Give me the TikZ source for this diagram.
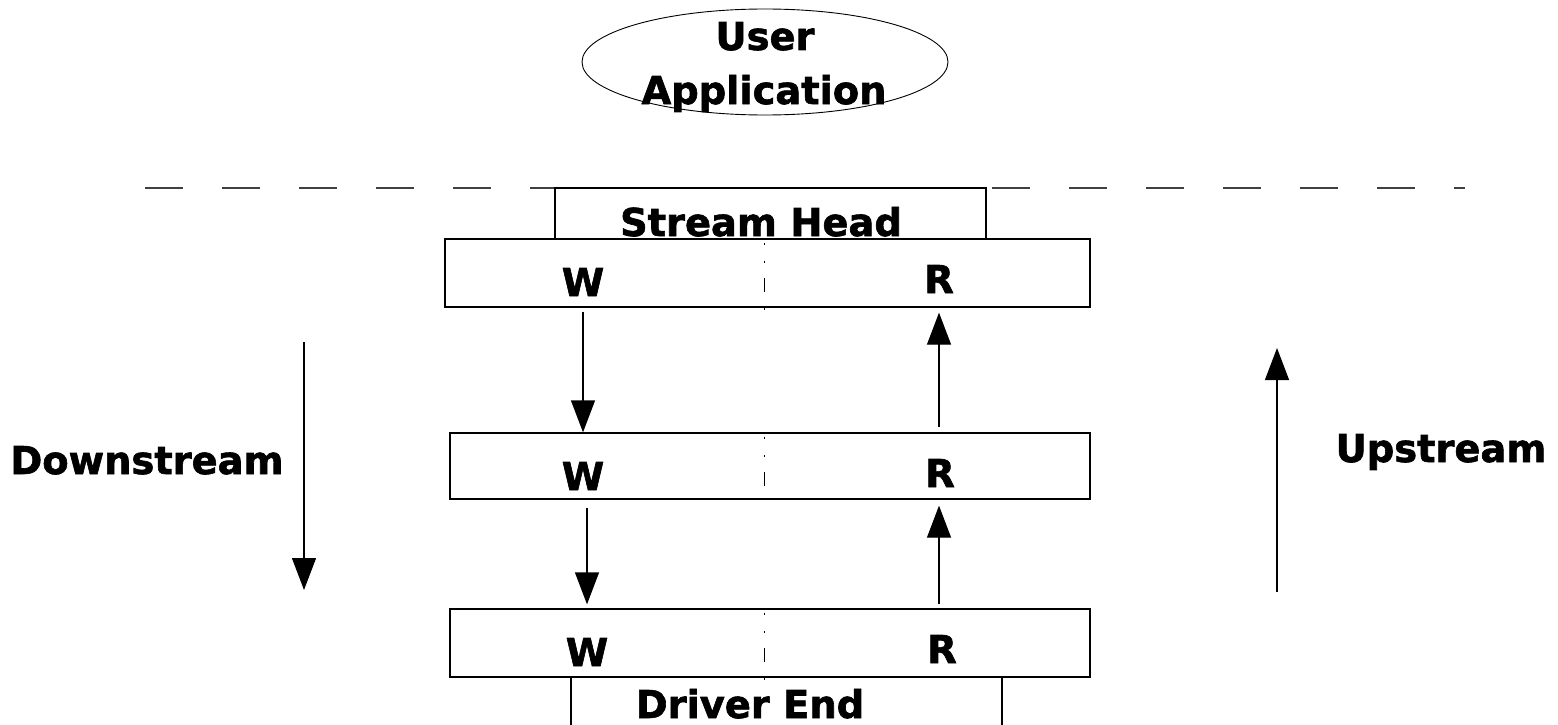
\documentclass[tikz,border=0pt]{standalone}
\usepackage{fontspec}
\setmainfont{DejaVu Sans}
\newfontfamily\heavyfont{DejaVu Sans}[FakeBold=1.6]
\usetikzlibrary{arrows.meta,shapes.geometric}
\begin{document}
\begin{tikzpicture}[x=1pt,y=-1pt,
  lbl/.style={font=\heavyfont\bfseries\fontsize{38.4}{46}\selectfont, inner sep=0pt, anchor=base},
  box/.style={draw, line width=1.3pt, inner sep=0pt, fill=white},
  arr/.style={line width=1.3pt, -{Triangle[length=32pt,width=24pt]}},
  midline/.style={line width=1pt, dash pattern=on 1.5pt off 16.5pt on 1.5pt off 15.5pt on 14pt off 16pt},
  sep/.style={line width=1.2pt, black!75, dash pattern=on 38pt off 39pt}]
\useasboundingbox (0,0) rectangle (1558,725);
\clip (0,0) rectangle (1558,725);
% user application
\node[draw, ellipse, minimum width=366pt, minimum height=106pt, line width=0.9pt, inner sep=0pt] (ua) at (765,62) {};
\node[lbl] (user) at (765,50) {User};
\node[lbl] (appl) at (764,104) {Application};
% separator
\coordinate (sepL) at (145,188);
\coordinate (sepR) at (1465,188);
\draw[sep] (sepL) -- (sepR);
% boxes
\node[box, minimum width=431pt, minimum height=51pt] (sh) at (770.5,213.5) {};
\node[box, minimum width=431pt, minimum height=80pt] (de) at (786.5,717) {};
\node[box, minimum width=645pt, minimum height=68pt] (b1) at (767.5,273) {};
\node[box, minimum width=640pt, minimum height=66pt] (b2) at (770,466) {};
\node[box, minimum width=640pt, minimum height=68pt] (b3) at (770,643) {};
% middle lines
\draw[midline] (764,243) -- (764,310);
\draw[midline] (764,437) -- (764,502);
\draw[midline] (764,613) -- (764,680);
% labels
\node[lbl] (shl) at (761,236) {Stream Head};
\node[lbl] (w1) at (583,296) {W};
\node[lbl] (r1) at (939,293) {R};
\node[lbl] (w2) at (583,490) {W};
\node[lbl] (r2) at (940,487) {R};
\node[lbl] (w3) at (587,666) {W};
\node[lbl] (r3) at (942,663) {R};
\node[lbl] (dn) at (147,474) {Downstream};
\node[lbl] (up) at (1441,462) {Upstream};
\node[lbl] (del) at (750,718) {Driver End};
% arrows between queues
\draw[arr] ([yshift=-4pt]b1.south -| w1) -- (b2.north -| w1);
\draw[arr] ([yshift=-8pt]b2.south -| w3) -- ([yshift=4pt]b3.north -| w3);
\draw[arr] ([yshift=5pt]b2.north -| r1) -- ([yshift=-5pt]b1.south -| r1);
\draw[arr] ([yshift=4pt]b3.north -| r1) -- ([yshift=-6pt]b2.south -| r1);
% side arrows
\coordinate (ds1) at (304,342);
\coordinate (ds2) at (304,590);
\coordinate (us1) at (1277,592);
\coordinate (us2) at (1277,348);
\draw[arr] (ds1) -- (ds2);
\draw[arr] (us1) -- (us2);
\end{tikzpicture}
\end{document}
